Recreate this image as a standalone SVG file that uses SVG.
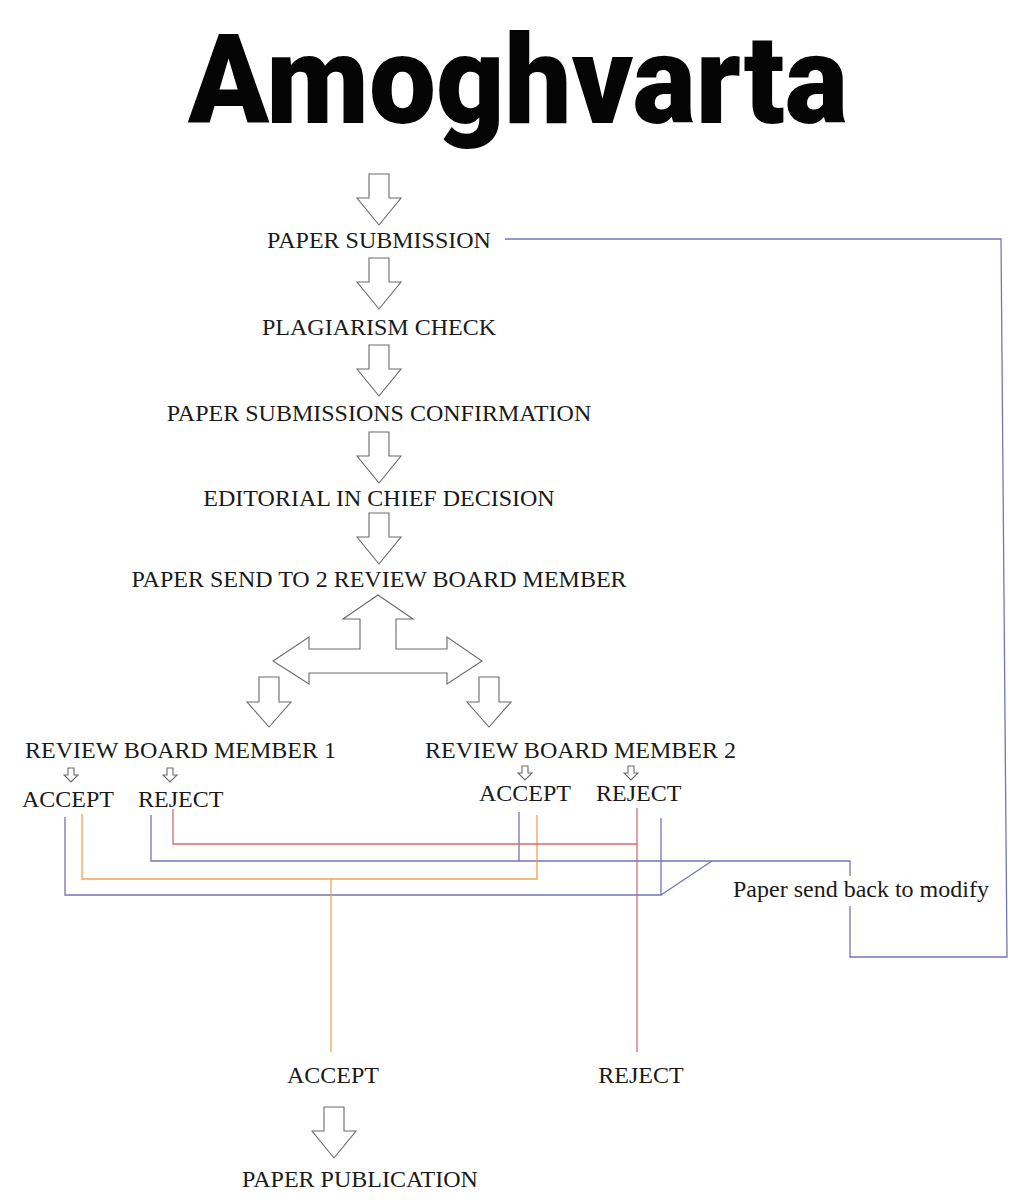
<svg xmlns="http://www.w3.org/2000/svg" xmlns:xlink="http://www.w3.org/1999/xlink" width="1029" height="1200" viewBox="0 0 1029 1200">
<style>
.lbl{font-family:"Liberation Serif","Times New Roman",serif;font-size:24px;fill:#1a1a1a}
.title{font-family:Roboto,"Liberation Sans",sans-serif;font-weight:900;font-size:124px;fill:#050505}
.blk{fill:#ffffff;stroke:#6a6a6a;stroke-width:1.1}
.ln{fill:none;stroke-width:1.3}
.blue{stroke:#7474b4}
.orange{stroke:#f0a255}
.red{stroke:#d86a6a}
</style>
<defs>
<path id="dn" d="M-10,0 H10 V24 H22 L0,51 L-22,24 H-10 Z"/>
<path id="dnM" d="M-10,0 H10 V25 H22 L0,50 L-22,25 H-10 Z"/>
<path id="dnS" d="M-3,0 H3 V7 H7 L0,14 L-7,7 H-3 Z"/>
</defs>
<rect width="1029" height="1200" fill="#ffffff"/>
<g id="title"><text class="title" x="188" y="123" textLength="660" lengthAdjust="spacingAndGlyphs">Amoghvarta</text></g>

<g id="connectors">
<g id="block-arrows">
<use xlink:href="#dn" href="#dn" class="blk" x="379" y="174"/>
<use xlink:href="#dn" href="#dn" class="blk" x="379" y="258"/>
<use xlink:href="#dn" href="#dn" class="blk" x="379" y="345"/>
<use xlink:href="#dn" href="#dn" class="blk" x="379" y="432"/>
<use xlink:href="#dn" href="#dn" class="blk" x="379" y="513"/>
<polygon class="blk" points="378,595 413,619 396,619 396,649 447,649 447,637 482,661 447,684 447,673 309,673 309,684 273,661 309,637 309,649 360,649 360,619 343,619"/>
<use xlink:href="#dnM" href="#dnM" class="blk" x="269" y="677"/>
<use xlink:href="#dnM" href="#dnM" class="blk" x="489" y="677"/>
<use xlink:href="#dnS" href="#dnS" class="blk" x="71" y="768"/>
<use xlink:href="#dnS" href="#dnS" class="blk" x="170" y="768"/>
<use xlink:href="#dnS" href="#dnS" class="blk" x="525" y="766"/>
<use xlink:href="#dnS" href="#dnS" class="blk" x="631" y="766"/>
<use xlink:href="#dn" href="#dn" class="blk" x="334" y="1107"/>
</g>
<g id="lines">
<path class="ln blue" d="M505,239 H1001 L1007,957 H850 V906"/>
<path class="ln blue" d="M850,876 V861 H151 V815"/>
<path class="ln blue" d="M519,812 V861"/>
<path class="ln blue" d="M65,817 V895 H661 V818"/>
<path class="ln blue" d="M661,895 L712,861"/>
<path class="ln orange" d="M82,814 V879 H537 V815"/>
<path class="ln orange" d="M331,879 V1052"/>
<path class="ln red" d="M173,809 V844 H637"/>
<path class="ln red" d="M637,808 V1052"/>
</g>
</g>

<g id="n-submission"><text class="lbl" x="379" y="248" text-anchor="middle">PAPER SUBMISSION</text></g>
<g id="n-plagiarism"><text class="lbl" x="379" y="335" text-anchor="middle">PLAGIARISM CHECK</text></g>
<g id="n-confirmation"><text class="lbl" x="379" y="421" text-anchor="middle">PAPER SUBMISSIONS CONFIRMATION</text></g>
<g id="n-editorial"><text class="lbl" x="379" y="506" text-anchor="middle">EDITORIAL IN CHIEF DECISION</text></g>
<g id="n-send"><text class="lbl" x="379" y="587" text-anchor="middle">PAPER SEND TO 2 REVIEW BOARD MEMBER</text></g>
<g id="n-member1"><text class="lbl" x="25" y="758">REVIEW BOARD MEMBER 1</text></g>
<g id="n-member2"><text class="lbl" x="425" y="758">REVIEW BOARD MEMBER 2</text></g>
<g id="n-accept1"><text class="lbl" x="22" y="807">ACCEPT</text></g>
<g id="n-reject1"><text class="lbl" x="138" y="807">REJECT</text></g>
<g id="n-accept2"><text class="lbl" x="479" y="801">ACCEPT</text></g>
<g id="n-reject2"><text class="lbl" x="596" y="801">REJECT</text></g>
<g id="n-modify"><text class="lbl" x="733" y="897">Paper send back to modify</text></g>
<g id="n-accept"><text class="lbl" x="333" y="1083" text-anchor="middle">ACCEPT</text></g>
<g id="n-reject"><text class="lbl" x="641" y="1083" text-anchor="middle">REJECT</text></g>
<g id="n-publication"><text class="lbl" x="360" y="1187" text-anchor="middle">PAPER PUBLICATION</text></g>
</svg>
